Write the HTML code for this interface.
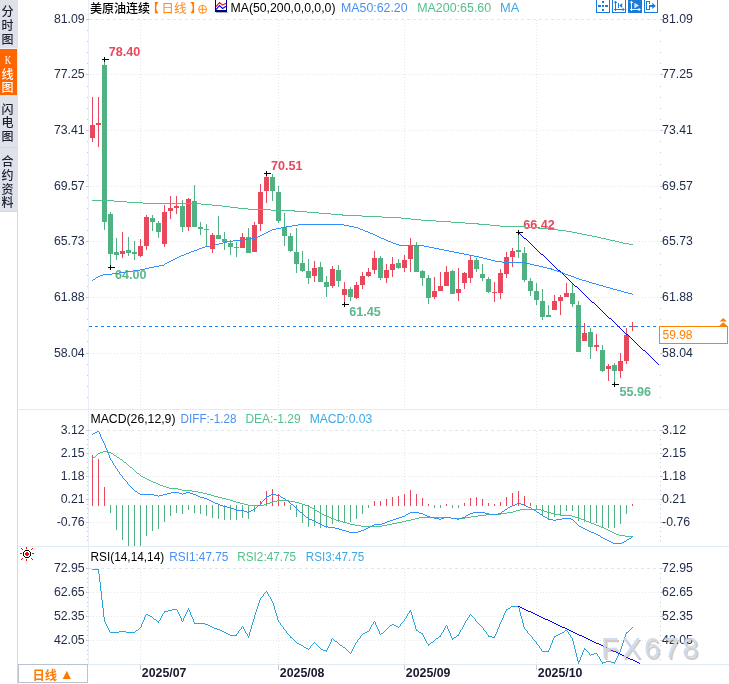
<!DOCTYPE html><html><head><meta charset="utf-8"><title>美原油连续 日线</title>
<style>html,body{margin:0;padding:0;background:#fff;overflow:hidden}svg{display:block}text{font-family:"Liberation Sans","Noto Sans CJK SC",sans-serif;font-size:12px}.ax{fill:#1e2a4a;font-size:12.3px}.t{font-size:12.5px}.b{font-weight:bold}.sb{font-family:"Noto Sans CJK SC","Liberation Sans",sans-serif;font-size:12px;fill:#1a2232;font-weight:500}</style></head><body>
<svg width="729" height="684" viewBox="0 0 729 684">
<rect width="729" height="684" fill="#fff"/>
<g shape-rendering="crispEdges">
<rect x="0" y="0" width="18" height="211" fill="#e0e2ea"/>
<rect x="0" y="48" width="18" height="1" fill="#eef1f8"/>
<rect x="0" y="49" width="17" height="46" fill="#ff6600"/>
<rect x="17" y="49" width="1" height="46" fill="#e6eefa"/>
<rect x="0" y="147" width="18" height="1" fill="#d4d8e0"/>
<rect x="0" y="211" width="18" height="1" fill="#d0dae6"/>
<rect x="17" y="211" width="1" height="473" fill="#d0dae6"/>
</g>
<text class="sb" x="7.5" y="15.5" text-anchor="middle">分</text>
<text class="sb" x="7.5" y="29.5" text-anchor="middle">时</text>
<text class="sb" x="7.5" y="43.5" text-anchor="middle">图</text>
<text class="sb" x="8" y="64" text-anchor="middle" style="fill:#fff;font-family:'Liberation Serif',serif" textLength="6.5" lengthAdjust="spacingAndGlyphs">K</text>
<text class="sb" x="7.5" y="78.5" text-anchor="middle" style="fill:#fff">线</text>
<text class="sb" x="7.5" y="92" text-anchor="middle" style="fill:#fff">图</text>
<text class="sb" x="7.5" y="114" text-anchor="middle">闪</text>
<text class="sb" x="7.5" y="127" text-anchor="middle">电</text>
<text class="sb" x="7.5" y="140.5" text-anchor="middle">图</text>
<text class="sb" x="7.5" y="165.5" text-anchor="middle">合</text>
<text class="sb" x="7.5" y="179.5" text-anchor="middle">约</text>
<text class="sb" x="7.5" y="193.5" text-anchor="middle">资</text>
<text class="sb" x="7.5" y="207" text-anchor="middle">料</text>
<g stroke="#dde7f0" stroke-width="1" stroke-dasharray="3,3" shape-rendering="crispEdges">
<line x1="89" x2="660" y1="19.5" y2="19.5"/>
<line x1="89" x2="660" y1="430.5" y2="430.5"/>
<line x1="89" x2="660" y1="568.5" y2="568.5"/>
</g>
<g stroke="#e3e7ec" stroke-width="1" stroke-dasharray="1,2" shape-rendering="crispEdges">
<line x1="90" x2="660" y1="74.5" y2="74.5"/>
<line x1="90" x2="660" y1="130.5" y2="130.5"/>
<line x1="90" x2="660" y1="186.5" y2="186.5"/>
<line x1="90" x2="660" y1="241.5" y2="241.5"/>
<line x1="90" x2="660" y1="297.5" y2="297.5"/>
<line x1="90" x2="660" y1="353.5" y2="353.5"/>
<line x1="90" x2="660" y1="453.5" y2="453.5"/>
<line x1="90" x2="660" y1="476.5" y2="476.5"/>
<line x1="90" x2="660" y1="499.5" y2="499.5"/>
<line x1="90" x2="660" y1="522.5" y2="522.5"/>
<line x1="90" x2="660" y1="592.5" y2="592.5"/>
<line x1="90" x2="660" y1="616.5" y2="616.5"/>
<line x1="90" x2="660" y1="640.5" y2="640.5"/>
<line x1="140.5" x2="140.5" y1="20" y2="409"/>
<line x1="140.5" x2="140.5" y1="431" y2="546"/>
<line x1="140.5" x2="140.5" y1="569" y2="664"/>
<line x1="278.5" x2="278.5" y1="20" y2="409"/>
<line x1="278.5" x2="278.5" y1="431" y2="546"/>
<line x1="278.5" x2="278.5" y1="569" y2="664"/>
<line x1="404.5" x2="404.5" y1="20" y2="409"/>
<line x1="404.5" x2="404.5" y1="431" y2="546"/>
<line x1="404.5" x2="404.5" y1="569" y2="664"/>
<line x1="536.5" x2="536.5" y1="20" y2="409"/>
<line x1="536.5" x2="536.5" y1="431" y2="546"/>
<line x1="536.5" x2="536.5" y1="569" y2="664"/>
</g>
<g shape-rendering="crispEdges" fill="#e2eaf2">
<rect x="18" y="409" width="711" height="1"/>
<rect x="18" y="546" width="711" height="1"/>
<rect x="18" y="664" width="711" height="1"/>
<rect x="88" y="0" width="1" height="664" fill="#e8eef5"/>
</g>
<g shape-rendering="crispEdges" fill="#c4ccd8">
<rect x="86" y="19" width="3" height="1"/><rect x="660" y="19" width="3" height="1"/>
<rect x="87" y="30" width="1" height="1"/><rect x="660" y="30" width="1" height="1"/>
<rect x="87" y="41" width="1" height="1"/><rect x="660" y="41" width="1" height="1"/>
<rect x="87" y="52" width="1" height="1"/><rect x="660" y="52" width="1" height="1"/>
<rect x="87" y="63" width="1" height="1"/><rect x="660" y="63" width="1" height="1"/>
<rect x="86" y="74" width="3" height="1"/><rect x="660" y="74" width="3" height="1"/>
<rect x="87" y="86" width="1" height="1"/><rect x="660" y="86" width="1" height="1"/>
<rect x="87" y="97" width="1" height="1"/><rect x="660" y="97" width="1" height="1"/>
<rect x="87" y="108" width="1" height="1"/><rect x="660" y="108" width="1" height="1"/>
<rect x="87" y="119" width="1" height="1"/><rect x="660" y="119" width="1" height="1"/>
<rect x="86" y="130" width="3" height="1"/><rect x="660" y="130" width="3" height="1"/>
<rect x="87" y="141" width="1" height="1"/><rect x="660" y="141" width="1" height="1"/>
<rect x="87" y="152" width="1" height="1"/><rect x="660" y="152" width="1" height="1"/>
<rect x="87" y="164" width="1" height="1"/><rect x="660" y="164" width="1" height="1"/>
<rect x="87" y="175" width="1" height="1"/><rect x="660" y="175" width="1" height="1"/>
<rect x="86" y="186" width="3" height="1"/><rect x="660" y="186" width="3" height="1"/>
<rect x="87" y="197" width="1" height="1"/><rect x="660" y="197" width="1" height="1"/>
<rect x="87" y="208" width="1" height="1"/><rect x="660" y="208" width="1" height="1"/>
<rect x="87" y="219" width="1" height="1"/><rect x="660" y="219" width="1" height="1"/>
<rect x="87" y="230" width="1" height="1"/><rect x="660" y="230" width="1" height="1"/>
<rect x="86" y="241" width="3" height="1"/><rect x="660" y="241" width="3" height="1"/>
<rect x="87" y="253" width="1" height="1"/><rect x="660" y="253" width="1" height="1"/>
<rect x="87" y="264" width="1" height="1"/><rect x="660" y="264" width="1" height="1"/>
<rect x="87" y="275" width="1" height="1"/><rect x="660" y="275" width="1" height="1"/>
<rect x="87" y="286" width="1" height="1"/><rect x="660" y="286" width="1" height="1"/>
<rect x="86" y="297" width="3" height="1"/><rect x="660" y="297" width="3" height="1"/>
<rect x="87" y="308" width="1" height="1"/><rect x="660" y="308" width="1" height="1"/>
<rect x="87" y="319" width="1" height="1"/><rect x="660" y="319" width="1" height="1"/>
<rect x="87" y="330" width="1" height="1"/><rect x="660" y="330" width="1" height="1"/>
<rect x="87" y="341" width="1" height="1"/><rect x="660" y="341" width="1" height="1"/>
<rect x="86" y="353" width="3" height="1"/><rect x="660" y="353" width="3" height="1"/>
<rect x="87" y="364" width="1" height="1"/><rect x="660" y="364" width="1" height="1"/>
<rect x="87" y="375" width="1" height="1"/><rect x="660" y="375" width="1" height="1"/>
<rect x="87" y="386" width="1" height="1"/><rect x="660" y="386" width="1" height="1"/>
<rect x="87" y="397" width="1" height="1"/><rect x="660" y="397" width="1" height="1"/>
<rect x="86" y="430" width="3" height="1"/><rect x="660" y="430" width="3" height="1"/>
<rect x="87" y="435" width="1" height="1"/><rect x="660" y="435" width="1" height="1"/>
<rect x="87" y="439" width="1" height="1"/><rect x="660" y="439" width="1" height="1"/>
<rect x="87" y="444" width="1" height="1"/><rect x="660" y="444" width="1" height="1"/>
<rect x="87" y="448" width="1" height="1"/><rect x="660" y="448" width="1" height="1"/>
<rect x="86" y="453" width="3" height="1"/><rect x="660" y="453" width="3" height="1"/>
<rect x="87" y="458" width="1" height="1"/><rect x="660" y="458" width="1" height="1"/>
<rect x="87" y="462" width="1" height="1"/><rect x="660" y="462" width="1" height="1"/>
<rect x="87" y="467" width="1" height="1"/><rect x="660" y="467" width="1" height="1"/>
<rect x="87" y="471" width="1" height="1"/><rect x="660" y="471" width="1" height="1"/>
<rect x="86" y="476" width="3" height="1"/><rect x="660" y="476" width="3" height="1"/>
<rect x="87" y="481" width="1" height="1"/><rect x="660" y="481" width="1" height="1"/>
<rect x="87" y="485" width="1" height="1"/><rect x="660" y="485" width="1" height="1"/>
<rect x="87" y="490" width="1" height="1"/><rect x="660" y="490" width="1" height="1"/>
<rect x="87" y="494" width="1" height="1"/><rect x="660" y="494" width="1" height="1"/>
<rect x="86" y="499" width="3" height="1"/><rect x="660" y="499" width="3" height="1"/>
<rect x="87" y="504" width="1" height="1"/><rect x="660" y="504" width="1" height="1"/>
<rect x="87" y="508" width="1" height="1"/><rect x="660" y="508" width="1" height="1"/>
<rect x="87" y="513" width="1" height="1"/><rect x="660" y="513" width="1" height="1"/>
<rect x="87" y="517" width="1" height="1"/><rect x="660" y="517" width="1" height="1"/>
<rect x="86" y="522" width="3" height="1"/><rect x="660" y="522" width="3" height="1"/>
<rect x="87" y="527" width="1" height="1"/><rect x="660" y="527" width="1" height="1"/>
<rect x="87" y="531" width="1" height="1"/><rect x="660" y="531" width="1" height="1"/>
<rect x="87" y="536" width="1" height="1"/><rect x="660" y="536" width="1" height="1"/>
<rect x="87" y="540" width="1" height="1"/><rect x="660" y="540" width="1" height="1"/>
<rect x="86" y="568" width="3" height="1"/><rect x="660" y="568" width="3" height="1"/>
<rect x="87" y="573" width="1" height="1"/><rect x="660" y="573" width="1" height="1"/>
<rect x="87" y="578" width="1" height="1"/><rect x="660" y="578" width="1" height="1"/>
<rect x="87" y="582" width="1" height="1"/><rect x="660" y="582" width="1" height="1"/>
<rect x="87" y="587" width="1" height="1"/><rect x="660" y="587" width="1" height="1"/>
<rect x="86" y="592" width="3" height="1"/><rect x="660" y="592" width="3" height="1"/>
<rect x="87" y="597" width="1" height="1"/><rect x="660" y="597" width="1" height="1"/>
<rect x="87" y="602" width="1" height="1"/><rect x="660" y="602" width="1" height="1"/>
<rect x="87" y="606" width="1" height="1"/><rect x="660" y="606" width="1" height="1"/>
<rect x="87" y="611" width="1" height="1"/><rect x="660" y="611" width="1" height="1"/>
<rect x="86" y="616" width="3" height="1"/><rect x="660" y="616" width="3" height="1"/>
<rect x="87" y="621" width="1" height="1"/><rect x="660" y="621" width="1" height="1"/>
<rect x="87" y="626" width="1" height="1"/><rect x="660" y="626" width="1" height="1"/>
<rect x="87" y="630" width="1" height="1"/><rect x="660" y="630" width="1" height="1"/>
<rect x="87" y="635" width="1" height="1"/><rect x="660" y="635" width="1" height="1"/>
<rect x="86" y="640" width="3" height="1"/><rect x="660" y="640" width="3" height="1"/>
<rect x="87" y="645" width="1" height="1"/><rect x="660" y="645" width="1" height="1"/>
<rect x="87" y="650" width="1" height="1"/><rect x="660" y="650" width="1" height="1"/>
<rect x="87" y="654" width="1" height="1"/><rect x="660" y="654" width="1" height="1"/>
<rect x="87" y="659" width="1" height="1"/><rect x="660" y="659" width="1" height="1"/>
<rect x="140" y="665" width="1" height="5"/>
<rect x="278" y="665" width="1" height="5"/>
<rect x="404" y="665" width="1" height="5"/>
<rect x="536" y="665" width="1" height="5"/>
</g>
<text class="ax" x="84.7" y="23.4" text-anchor="end">81.09</text>
<text class="ax" x="662.1" y="23.4" text-anchor="start">81.09</text>
<text class="ax" x="84.7" y="78.4" text-anchor="end">77.25</text>
<text class="ax" x="662.1" y="78.4" text-anchor="start">77.25</text>
<text class="ax" x="84.7" y="134.4" text-anchor="end">73.41</text>
<text class="ax" x="662.1" y="134.4" text-anchor="start">73.41</text>
<text class="ax" x="84.7" y="190.4" text-anchor="end">69.57</text>
<text class="ax" x="662.1" y="190.4" text-anchor="start">69.57</text>
<text class="ax" x="84.7" y="245.4" text-anchor="end">65.73</text>
<text class="ax" x="662.1" y="245.4" text-anchor="start">65.73</text>
<text class="ax" x="84.7" y="301.4" text-anchor="end">61.88</text>
<text class="ax" x="662.1" y="301.4" text-anchor="start">61.88</text>
<text class="ax" x="84.7" y="357.4" text-anchor="end">58.04</text>
<text class="ax" x="662.1" y="357.4" text-anchor="start">58.04</text>
<text class="ax" x="84.7" y="434.4" text-anchor="end">3.12</text>
<text class="ax" x="662.1" y="434.4" text-anchor="start">3.12</text>
<text class="ax" x="84.7" y="457.4" text-anchor="end">2.15</text>
<text class="ax" x="662.1" y="457.4" text-anchor="start">2.15</text>
<text class="ax" x="84.7" y="480.4" text-anchor="end">1.18</text>
<text class="ax" x="662.1" y="480.4" text-anchor="start">1.18</text>
<text class="ax" x="84.7" y="503.4" text-anchor="end">0.21</text>
<text class="ax" x="662.1" y="503.4" text-anchor="start">0.21</text>
<text class="ax" x="84.7" y="526.4" text-anchor="end">-0.76</text>
<text class="ax" x="662.1" y="526.4" text-anchor="start">-0.76</text>
<text class="ax" x="84.7" y="572.4" text-anchor="end">72.95</text>
<text class="ax" x="662.1" y="572.4" text-anchor="start">72.95</text>
<text class="ax" x="84.7" y="596.4" text-anchor="end">62.65</text>
<text class="ax" x="662.1" y="596.4" text-anchor="start">62.65</text>
<text class="ax" x="84.7" y="620.4" text-anchor="end">52.35</text>
<text class="ax" x="662.1" y="620.4" text-anchor="start">52.35</text>
<text class="ax" x="84.7" y="644.4" text-anchor="end">42.05</text>
<text class="ax" x="662.1" y="644.4" text-anchor="start">42.05</text>
<g shape-rendering="crispEdges">
<rect x="92" y="97" width="1" height="45" fill="#e8475c"/>
<rect x="90" y="125" width="5" height="13" fill="#e8475c"/>
<rect x="98" y="97" width="1" height="50" fill="#e8475c"/>
<rect x="96" y="123" width="5" height="2" fill="#e8475c"/>
<rect x="104" y="59" width="1" height="171" fill="#50b283"/>
<rect x="102" y="65" width="5" height="157" fill="#50b283"/>
<rect x="110" y="212" width="1" height="53" fill="#50b283"/>
<rect x="108" y="214" width="5" height="40" fill="#50b283"/>
<rect x="116" y="238" width="1" height="22" fill="#50b283"/>
<rect x="114" y="252" width="5" height="3" fill="#50b283"/>
<rect x="122" y="232" width="1" height="26" fill="#e8475c"/>
<rect x="120" y="251" width="5" height="3" fill="#e8475c"/>
<rect x="128" y="237" width="1" height="19" fill="#50b283"/>
<rect x="126" y="250" width="5" height="3" fill="#50b283"/>
<rect x="134" y="241" width="1" height="19" fill="#50b283"/>
<rect x="132" y="252" width="5" height="2" fill="#50b283"/>
<rect x="140" y="239" width="1" height="18" fill="#e8475c"/>
<rect x="138" y="246" width="5" height="10" fill="#e8475c"/>
<rect x="146" y="215" width="1" height="35" fill="#e8475c"/>
<rect x="144" y="217" width="5" height="29" fill="#e8475c"/>
<rect x="152" y="215" width="1" height="16" fill="#50b283"/>
<rect x="150" y="218" width="5" height="4" fill="#50b283"/>
<rect x="158" y="221" width="1" height="17" fill="#50b283"/>
<rect x="156" y="223" width="5" height="9" fill="#50b283"/>
<rect x="164" y="205" width="1" height="42" fill="#e8475c"/>
<rect x="162" y="212" width="5" height="32" fill="#e8475c"/>
<rect x="170" y="196" width="1" height="23" fill="#e8475c"/>
<rect x="168" y="208" width="5" height="3" fill="#e8475c"/>
<rect x="176" y="196" width="1" height="18" fill="#e8475c"/>
<rect x="174" y="206" width="5" height="2" fill="#e8475c"/>
<rect x="182" y="200" width="1" height="32" fill="#50b283"/>
<rect x="180" y="206" width="5" height="21" fill="#50b283"/>
<rect x="188" y="198" width="1" height="33" fill="#e8475c"/>
<rect x="186" y="199" width="5" height="28" fill="#e8475c"/>
<rect x="194" y="185" width="1" height="42" fill="#50b283"/>
<rect x="192" y="201" width="5" height="26" fill="#50b283"/>
<rect x="200" y="222" width="1" height="13" fill="#50b283"/>
<rect x="198" y="227" width="5" height="2" fill="#50b283"/>
<rect x="206" y="224" width="1" height="23" fill="#50b283"/>
<rect x="204" y="229" width="5" height="1" fill="#50b283"/>
<rect x="212" y="233" width="1" height="20" fill="#e8475c"/>
<rect x="210" y="235" width="5" height="14" fill="#e8475c"/>
<rect x="218" y="216" width="1" height="23" fill="#50b283"/>
<rect x="216" y="235" width="5" height="4" fill="#50b283"/>
<rect x="224" y="232" width="1" height="18" fill="#50b283"/>
<rect x="222" y="239" width="5" height="3" fill="#50b283"/>
<rect x="230" y="240" width="1" height="15" fill="#50b283"/>
<rect x="228" y="243" width="5" height="4" fill="#50b283"/>
<rect x="236" y="242" width="1" height="15" fill="#50b283"/>
<rect x="234" y="247" width="5" height="1" fill="#50b283"/>
<rect x="242" y="233" width="1" height="15" fill="#e8475c"/>
<rect x="240" y="237" width="5" height="11" fill="#e8475c"/>
<rect x="248" y="228" width="1" height="25" fill="#50b283"/>
<rect x="246" y="237" width="5" height="16" fill="#50b283"/>
<rect x="254" y="222" width="1" height="30" fill="#e8475c"/>
<rect x="252" y="225" width="5" height="27" fill="#e8475c"/>
<rect x="260" y="184" width="1" height="47" fill="#e8475c"/>
<rect x="258" y="192" width="5" height="32" fill="#e8475c"/>
<rect x="266" y="174" width="1" height="29" fill="#e8475c"/>
<rect x="264" y="177" width="5" height="14" fill="#e8475c"/>
<rect x="272" y="174" width="1" height="27" fill="#50b283"/>
<rect x="270" y="177" width="5" height="14" fill="#50b283"/>
<rect x="278" y="186" width="1" height="37" fill="#50b283"/>
<rect x="276" y="192" width="5" height="29" fill="#50b283"/>
<rect x="284" y="213" width="1" height="33" fill="#50b283"/>
<rect x="282" y="227" width="5" height="9" fill="#50b283"/>
<rect x="290" y="233" width="1" height="19" fill="#50b283"/>
<rect x="288" y="236" width="5" height="15" fill="#50b283"/>
<rect x="296" y="228" width="1" height="45" fill="#50b283"/>
<rect x="294" y="252" width="5" height="12" fill="#50b283"/>
<rect x="302" y="251" width="1" height="21" fill="#50b283"/>
<rect x="300" y="263" width="5" height="8" fill="#50b283"/>
<rect x="308" y="259" width="1" height="25" fill="#50b283"/>
<rect x="306" y="271" width="5" height="7" fill="#50b283"/>
<rect x="314" y="261" width="1" height="21" fill="#e8475c"/>
<rect x="312" y="268" width="5" height="8" fill="#e8475c"/>
<rect x="320" y="262" width="1" height="20" fill="#50b283"/>
<rect x="318" y="267" width="5" height="15" fill="#50b283"/>
<rect x="326" y="276" width="1" height="21" fill="#50b283"/>
<rect x="324" y="282" width="5" height="5" fill="#50b283"/>
<rect x="332" y="266" width="1" height="22" fill="#e8475c"/>
<rect x="330" y="269" width="5" height="17" fill="#e8475c"/>
<rect x="338" y="265" width="1" height="22" fill="#50b283"/>
<rect x="336" y="270" width="5" height="11" fill="#50b283"/>
<rect x="344" y="282" width="1" height="22" fill="#e8475c"/>
<rect x="342" y="289" width="5" height="6" fill="#e8475c"/>
<rect x="350" y="287" width="1" height="14" fill="#50b283"/>
<rect x="348" y="289" width="5" height="8" fill="#50b283"/>
<rect x="356" y="282" width="1" height="17" fill="#e8475c"/>
<rect x="354" y="285" width="5" height="13" fill="#e8475c"/>
<rect x="362" y="272" width="1" height="17" fill="#e8475c"/>
<rect x="360" y="276" width="5" height="9" fill="#e8475c"/>
<rect x="368" y="268" width="1" height="9" fill="#e8475c"/>
<rect x="366" y="272" width="5" height="4" fill="#e8475c"/>
<rect x="374" y="251" width="1" height="23" fill="#e8475c"/>
<rect x="372" y="258" width="5" height="12" fill="#e8475c"/>
<rect x="380" y="256" width="1" height="24" fill="#50b283"/>
<rect x="378" y="258" width="5" height="20" fill="#50b283"/>
<rect x="386" y="264" width="1" height="19" fill="#e8475c"/>
<rect x="384" y="270" width="5" height="8" fill="#e8475c"/>
<rect x="392" y="257" width="1" height="20" fill="#e8475c"/>
<rect x="390" y="264" width="5" height="6" fill="#e8475c"/>
<rect x="398" y="259" width="1" height="10" fill="#50b283"/>
<rect x="396" y="263" width="5" height="5" fill="#50b283"/>
<rect x="404" y="255" width="1" height="17" fill="#e8475c"/>
<rect x="402" y="260" width="5" height="8" fill="#e8475c"/>
<rect x="410" y="238" width="1" height="34" fill="#e8475c"/>
<rect x="408" y="245" width="5" height="14" fill="#e8475c"/>
<rect x="416" y="242" width="1" height="30" fill="#50b283"/>
<rect x="414" y="245" width="5" height="27" fill="#50b283"/>
<rect x="422" y="270" width="1" height="16" fill="#50b283"/>
<rect x="420" y="271" width="5" height="7" fill="#50b283"/>
<rect x="428" y="275" width="1" height="29" fill="#50b283"/>
<rect x="426" y="278" width="5" height="20" fill="#50b283"/>
<rect x="434" y="277" width="1" height="22" fill="#e8475c"/>
<rect x="432" y="291" width="5" height="6" fill="#e8475c"/>
<rect x="440" y="272" width="1" height="19" fill="#e8475c"/>
<rect x="438" y="286" width="5" height="5" fill="#e8475c"/>
<rect x="446" y="266" width="1" height="20" fill="#e8475c"/>
<rect x="444" y="272" width="5" height="14" fill="#e8475c"/>
<rect x="452" y="270" width="1" height="24" fill="#50b283"/>
<rect x="450" y="271" width="5" height="23" fill="#50b283"/>
<rect x="458" y="268" width="1" height="33" fill="#e8475c"/>
<rect x="456" y="289" width="5" height="4" fill="#e8475c"/>
<rect x="464" y="272" width="1" height="17" fill="#e8475c"/>
<rect x="462" y="273" width="5" height="10" fill="#e8475c"/>
<rect x="470" y="256" width="1" height="27" fill="#e8475c"/>
<rect x="468" y="260" width="5" height="18" fill="#e8475c"/>
<rect x="476" y="258" width="1" height="14" fill="#50b283"/>
<rect x="474" y="260" width="5" height="9" fill="#50b283"/>
<rect x="482" y="264" width="1" height="17" fill="#50b283"/>
<rect x="480" y="274" width="5" height="4" fill="#50b283"/>
<rect x="488" y="277" width="1" height="16" fill="#50b283"/>
<rect x="486" y="279" width="5" height="13" fill="#50b283"/>
<rect x="494" y="282" width="1" height="20" fill="#e8475c"/>
<rect x="492" y="292" width="5" height="1" fill="#e8475c"/>
<rect x="500" y="269" width="1" height="30" fill="#e8475c"/>
<rect x="498" y="273" width="5" height="20" fill="#e8475c"/>
<rect x="506" y="252" width="1" height="26" fill="#e8475c"/>
<rect x="504" y="257" width="5" height="17" fill="#e8475c"/>
<rect x="512" y="248" width="1" height="19" fill="#e8475c"/>
<rect x="510" y="251" width="5" height="6" fill="#e8475c"/>
<rect x="518" y="232" width="1" height="26" fill="#50b283"/>
<rect x="516" y="250" width="5" height="2" fill="#50b283"/>
<rect x="524" y="247" width="1" height="35" fill="#50b283"/>
<rect x="522" y="253" width="5" height="27" fill="#50b283"/>
<rect x="530" y="278" width="1" height="18" fill="#50b283"/>
<rect x="528" y="281" width="5" height="10" fill="#50b283"/>
<rect x="536" y="283" width="1" height="22" fill="#50b283"/>
<rect x="534" y="291" width="5" height="9" fill="#50b283"/>
<rect x="542" y="289" width="1" height="31" fill="#50b283"/>
<rect x="540" y="301" width="5" height="16" fill="#50b283"/>
<rect x="548" y="305" width="1" height="12" fill="#50b283"/>
<rect x="546" y="315" width="5" height="2" fill="#50b283"/>
<rect x="554" y="295" width="1" height="15" fill="#e8475c"/>
<rect x="552" y="301" width="5" height="9" fill="#e8475c"/>
<rect x="560" y="295" width="1" height="20" fill="#e8475c"/>
<rect x="558" y="297" width="5" height="4" fill="#e8475c"/>
<rect x="566" y="283" width="1" height="14" fill="#e8475c"/>
<rect x="564" y="293" width="5" height="4" fill="#e8475c"/>
<rect x="572" y="284" width="1" height="23" fill="#50b283"/>
<rect x="570" y="293" width="5" height="11" fill="#50b283"/>
<rect x="578" y="301" width="1" height="51" fill="#50b283"/>
<rect x="576" y="305" width="5" height="47" fill="#50b283"/>
<rect x="584" y="323" width="1" height="18" fill="#e8475c"/>
<rect x="582" y="333" width="5" height="8" fill="#e8475c"/>
<rect x="590" y="328" width="1" height="31" fill="#50b283"/>
<rect x="588" y="332" width="5" height="15" fill="#50b283"/>
<rect x="596" y="334" width="1" height="17" fill="#e8475c"/>
<rect x="594" y="345" width="5" height="2" fill="#e8475c"/>
<rect x="602" y="345" width="1" height="27" fill="#50b283"/>
<rect x="600" y="350" width="5" height="21" fill="#50b283"/>
<rect x="608" y="364" width="1" height="17" fill="#e8475c"/>
<rect x="606" y="366" width="5" height="3" fill="#e8475c"/>
<rect x="614" y="363" width="1" height="21" fill="#50b283"/>
<rect x="612" y="365" width="5" height="6" fill="#50b283"/>
<rect x="620" y="353" width="1" height="25" fill="#e8475c"/>
<rect x="618" y="361" width="5" height="10" fill="#e8475c"/>
<rect x="626" y="328" width="1" height="36" fill="#e8475c"/>
<rect x="624" y="335" width="5" height="26" fill="#e8475c"/>
<rect x="632" y="322" width="1" height="9" fill="#e8475c"/><rect x="630" y="326" width="5" height="1" fill="#e8475c"/>
</g>
<line x1="89" x2="660" y1="326.5" y2="326.5" stroke="#1a86f0" stroke-width="1" stroke-dasharray="3,3" shape-rendering="crispEdges"/>
<path fill="#0000ff" shape-rendering="crispEdges" d="M518 232h1v1h-1zM519 233h1v1h-1zM520 234h1v1h-1zM521 235h1v1h-1zM522 236h1v1h-1zM523 237h1v1h-1zM524 238h2v1h-2zM526 239h1v1h-1zM527 240h1v1h-1zM528 241h1v1h-1zM529 242h1v1h-1zM530 243h1v1h-1zM531 244h1v1h-1zM532 245h1v1h-1zM533 246h1v1h-1zM534 247h1v1h-1zM535 248h1v1h-1zM536 249h1v1h-1zM537 250h1v1h-1zM538 251h1v1h-1zM539 252h1v1h-1zM540 253h1v1h-1zM541 254h2v1h-2zM543 255h1v1h-1zM544 256h1v1h-1zM545 257h1v1h-1zM546 258h1v1h-1zM547 259h1v1h-1zM548 260h1v1h-1zM549 261h1v1h-1zM550 262h1v1h-1zM551 263h1v1h-1zM552 264h1v1h-1zM553 265h1v1h-1zM554 266h1v1h-1zM555 267h1v1h-1zM556 268h1v1h-1zM557 269h1v1h-1zM558 270h2v1h-2zM560 271h1v1h-1zM561 272h1v1h-1zM562 273h1v1h-1zM563 274h1v1h-1zM564 275h1v1h-1zM565 276h1v1h-1zM566 277h1v1h-1zM567 278h1v1h-1zM568 279h1v1h-1zM569 280h1v1h-1zM570 281h1v1h-1zM571 282h1v1h-1zM572 283h1v1h-1zM573 284h1v1h-1zM574 285h1v1h-1zM575 286h2v1h-2zM577 287h1v1h-1zM578 288h1v1h-1zM579 289h1v1h-1zM580 290h1v1h-1zM581 291h1v1h-1zM582 292h1v1h-1zM583 293h1v1h-1zM584 294h1v1h-1zM585 295h1v1h-1zM586 296h1v1h-1zM587 297h1v1h-1zM588 298h1v1h-1zM589 299h1v1h-1zM590 300h1v1h-1zM591 301h1v1h-1zM592 302h2v1h-2zM594 303h1v1h-1zM595 304h1v1h-1zM596 305h1v1h-1zM597 306h1v1h-1zM598 307h1v1h-1zM599 308h1v1h-1zM600 309h1v1h-1zM601 310h1v1h-1zM602 311h1v1h-1zM603 312h1v1h-1zM604 313h1v1h-1zM605 314h1v1h-1zM606 315h1v1h-1zM607 316h1v1h-1zM608 317h1v1h-1zM609 318h2v1h-2zM611 319h1v1h-1zM612 320h1v1h-1zM613 321h1v1h-1zM614 322h1v1h-1zM615 323h1v1h-1zM616 324h1v1h-1zM617 325h1v1h-1zM618 326h1v1h-1zM619 327h1v1h-1zM620 328h1v1h-1zM621 329h1v1h-1zM622 330h1v1h-1zM623 331h1v1h-1zM624 332h1v1h-1zM625 333h1v1h-1zM626 334h2v1h-2zM628 335h1v1h-1zM629 336h1v1h-1zM630 337h1v1h-1zM631 338h1v1h-1zM632 339h1v1h-1zM633 340h1v1h-1zM634 341h1v1h-1zM635 342h1v1h-1zM636 343h1v1h-1zM637 344h1v1h-1zM638 345h1v1h-1zM639 346h1v1h-1zM640 347h1v1h-1zM641 348h1v1h-1zM642 349h1v1h-1zM643 350h2v1h-2zM645 351h1v1h-1zM646 352h1v1h-1zM647 353h1v1h-1zM648 354h1v1h-1zM649 355h1v1h-1zM650 356h1v1h-1zM651 357h1v1h-1zM652 358h1v1h-1zM653 359h1v1h-1zM654 360h1v1h-1zM655 361h1v1h-1zM656 362h1v1h-1zM657 363h1v1h-1zM658 364h1v1h-1z"/>
<g shape-rendering="crispEdges" fill="#000"><rect x="102" y="59" width="7" height="1"/><rect x="104" y="57" width="1" height="5"/></g>
<g shape-rendering="crispEdges" fill="#000"><rect x="108" y="267" width="7" height="1"/><rect x="110" y="265" width="1" height="5"/></g>
<g shape-rendering="crispEdges" fill="#000"><rect x="264" y="173" width="7" height="1"/><rect x="266" y="171" width="1" height="5"/></g>
<g shape-rendering="crispEdges" fill="#000"><rect x="342" y="304" width="7" height="1"/><rect x="344" y="302" width="1" height="5"/></g>
<g shape-rendering="crispEdges" fill="#000"><rect x="516" y="232" width="7" height="1"/><rect x="518" y="230" width="1" height="5"/></g>
<g shape-rendering="crispEdges" fill="#000"><rect x="612" y="384" width="7" height="1"/><rect x="614" y="382" width="1" height="5"/></g>
<text class="b" x="108.8" y="56" fill="#e8475c" style="font-size:12.6px">78.40</text>
<text class="b" x="115" y="279" fill="#5cb88c" style="font-size:12.6px">64.00</text>
<text class="b" x="271" y="170" fill="#e8475c" style="font-size:12.6px">70.51</text>
<text class="b" x="349.3" y="316" fill="#5cb88c" style="font-size:12.6px">61.45</text>
<text class="b" x="523.2" y="229.4" fill="#e8475c" style="font-size:12.6px">66.42</text>
<text class="b" x="619.6" y="395.8" fill="#5cb88c" style="font-size:12.6px">55.96</text>
<path fill="#52c08c" shape-rendering="crispEdges" d="M92 200h22v1h-22zM114 201h13v1h-13zM127 202h16v1h-16zM143 203h58v1h-58zM201 204h11v1h-11zM212 205h10v1h-10zM222 206h8v1h-8zM230 207h8v1h-8zM238 208h10v1h-10zM248 209h23v1h-23zM271 210h24v1h-24zM294 211h13v1h-13zM307 212h12v1h-12zM319 213h12v1h-12zM331 214h12v1h-12zM342 215h20v1h-20zM362 216h20v1h-20zM382 217h19v1h-19zM401 218h10v1h-10zM411 219h10v1h-10zM421 220h15v1h-15zM436 221h15v1h-15zM451 222h14v1h-14zM465 223h14v1h-14zM478 224h12v1h-12zM490 225h10v1h-10zM500 226h25v1h-25zM525 227h13v1h-13zM538 228h10v1h-10zM548 229h10v1h-10zM558 230h8v1h-8zM566 231h6v1h-6zM572 232h5v1h-5zM577 233h5v1h-5zM582 234h5v1h-5zM587 235h5v1h-5zM592 236h5v1h-5zM597 237h4v1h-4zM601 238h5v1h-5zM606 239h4v1h-4zM610 240h5v1h-5zM615 241h4v1h-4zM619 242h4v1h-4zM623 243h6v1h-6zM629 244h4v1h-4z"/>
<path fill="#3090ff" shape-rendering="crispEdges" d="M298 224h46v1h-46zM292 225h6v1h-6zM344 225h5v1h-5zM286 226h6v1h-6zM349 226h5v1h-5zM281 227h5v1h-5zM354 227h4v1h-4zM276 228h5v1h-5zM358 228h2v1h-2zM272 229h4v1h-4zM360 229h3v1h-3zM270 230h2v1h-2zM363 230h2v1h-2zM268 231h2v1h-2zM365 231h3v1h-3zM266 232h2v1h-2zM368 232h2v1h-2zM264 233h2v1h-2zM370 233h3v1h-3zM262 234h2v1h-2zM373 234h2v1h-2zM260 235h2v1h-2zM375 235h2v1h-2zM258 236h2v1h-2zM377 236h2v1h-2zM256 237h2v1h-2zM379 237h2v1h-2zM249 238h7v1h-7zM381 238h3v1h-3zM241 239h8v1h-8zM384 239h2v1h-2zM233 240h8v1h-8zM386 240h2v1h-2zM227 241h6v1h-6zM388 241h3v1h-3zM223 242h4v1h-4zM391 242h2v1h-2zM219 243h4v1h-4zM393 243h3v1h-3zM215 244h4v1h-4zM396 244h3v1h-3zM210 245h5v1h-5zM399 245h25v1h-25zM205 246h5v1h-5zM424 246h5v1h-5zM202 247h3v1h-3zM429 247h5v1h-5zM199 248h3v1h-3zM434 248h5v1h-5zM197 249h2v1h-2zM439 249h5v1h-5zM194 250h3v1h-3zM444 250h5v1h-5zM191 251h3v1h-3zM449 251h5v1h-5zM189 252h2v1h-2zM454 252h5v1h-5zM186 253h3v1h-3zM459 253h5v1h-5zM184 254h2v1h-2zM464 254h5v1h-5zM181 255h3v1h-3zM469 255h5v1h-5zM179 256h2v1h-2zM474 256h5v1h-5zM177 257h2v1h-2zM479 257h4v1h-4zM175 258h2v1h-2zM483 258h4v1h-4zM173 259h2v1h-2zM487 259h4v1h-4zM171 260h2v1h-2zM491 260h4v1h-4zM169 261h2v1h-2zM495 261h7v1h-7zM167 262h2v1h-2zM502 262h23v1h-23zM165 263h2v1h-2zM525 263h5v1h-5zM164 264h1v1h-1zM530 264h4v1h-4zM159 265h5v1h-5zM534 265h5v1h-5zM154 266h5v1h-5zM539 266h4v1h-4zM149 267h5v1h-5zM543 267h4v1h-4zM145 268h4v1h-4zM547 268h5v1h-5zM140 269h5v1h-5zM551 269h3v1h-3zM133 270h7v1h-7zM554 270h3v1h-3zM126 271h7v1h-7zM557 271h3v1h-3zM119 272h7v1h-7zM560 272h3v1h-3zM112 273h7v1h-7zM563 273h2v1h-2zM103 274h9v1h-9zM565 274h3v1h-3zM100 275h3v1h-3zM568 275h3v1h-3zM98 276h2v1h-2zM571 276h3v1h-3zM96 277h2v1h-2zM574 277h2v1h-2zM95 278h1v1h-1zM576 278h3v1h-3zM93 279h2v1h-2zM579 279h3v1h-3zM92 280h1v1h-1zM582 280h4v1h-4zM586 281h3v1h-3zM589 282h3v1h-3zM592 283h4v1h-4zM596 284h3v1h-3zM599 285h4v1h-4zM603 286h3v1h-3zM606 287h4v1h-4zM610 288h3v1h-3zM613 289h4v1h-4zM617 290h4v1h-4zM621 291h3v1h-3zM624 292h4v1h-4zM628 293h4v1h-4zM632 294h1v1h-1z"/>
<rect x="659.5" y="326.5" width="68" height="17" fill="#fff" stroke="#ff8000" stroke-width="1" shape-rendering="crispEdges"/>
<text x="662.5" y="338.6" fill="#ff8000">59.98</text>
<path d="M719.6 321.6 L723.2 317.9 L726.9 321.6 Z M719.1 326 L723.2 322.2 L727.4 326 Z" fill="#ff8000"/>
<g shape-rendering="crispEdges">
<rect x="92" y="455" width="1" height="51" fill="#e8475c"/>
<rect x="98" y="459" width="1" height="47" fill="#e8475c"/>
<rect x="104" y="487" width="1" height="19" fill="#e8475c"/>
<rect x="110" y="505" width="1" height="8" fill="#50b283"/>
<rect x="116" y="505" width="1" height="25" fill="#50b283"/>
<rect x="122" y="505" width="1" height="35" fill="#50b283"/>
<rect x="128" y="505" width="1" height="41" fill="#50b283"/>
<rect x="134" y="505" width="1" height="41" fill="#50b283"/>
<rect x="140" y="505" width="1" height="41" fill="#50b283"/>
<rect x="146" y="505" width="1" height="31" fill="#50b283"/>
<rect x="152" y="505" width="1" height="26" fill="#50b283"/>
<rect x="158" y="505" width="1" height="24" fill="#50b283"/>
<rect x="164" y="505" width="1" height="17" fill="#50b283"/>
<rect x="170" y="505" width="1" height="11" fill="#50b283"/>
<rect x="176" y="505" width="1" height="8" fill="#50b283"/>
<rect x="182" y="505" width="1" height="9" fill="#50b283"/>
<rect x="188" y="505" width="1" height="5" fill="#50b283"/>
<rect x="194" y="505" width="1" height="8" fill="#50b283"/>
<rect x="200" y="505" width="1" height="9" fill="#50b283"/>
<rect x="206" y="505" width="1" height="11" fill="#50b283"/>
<rect x="212" y="505" width="1" height="13" fill="#50b283"/>
<rect x="218" y="505" width="1" height="14" fill="#50b283"/>
<rect x="224" y="505" width="1" height="15" fill="#50b283"/>
<rect x="230" y="505" width="1" height="15" fill="#50b283"/>
<rect x="236" y="505" width="1" height="15" fill="#50b283"/>
<rect x="242" y="505" width="1" height="13" fill="#50b283"/>
<rect x="248" y="505" width="1" height="14" fill="#50b283"/>
<rect x="254" y="505" width="1" height="7" fill="#50b283"/>
<rect x="260" y="501" width="1" height="5" fill="#e8475c"/>
<rect x="266" y="491" width="1" height="15" fill="#e8475c"/>
<rect x="272" y="489" width="1" height="17" fill="#e8475c"/>
<rect x="278" y="494" width="1" height="12" fill="#e8475c"/>
<rect x="284" y="502" width="1" height="4" fill="#e8475c"/>
<rect x="290" y="505" width="1" height="5" fill="#50b283"/>
<rect x="296" y="505" width="1" height="12" fill="#50b283"/>
<rect x="302" y="505" width="1" height="18" fill="#50b283"/>
<rect x="308" y="505" width="1" height="22" fill="#50b283"/>
<rect x="314" y="505" width="1" height="21" fill="#50b283"/>
<rect x="320" y="505" width="1" height="23" fill="#50b283"/>
<rect x="326" y="505" width="1" height="23" fill="#50b283"/>
<rect x="332" y="505" width="1" height="19" fill="#50b283"/>
<rect x="338" y="505" width="1" height="17" fill="#50b283"/>
<rect x="344" y="505" width="1" height="17" fill="#50b283"/>
<rect x="350" y="505" width="1" height="17" fill="#50b283"/>
<rect x="356" y="505" width="1" height="14" fill="#50b283"/>
<rect x="362" y="505" width="1" height="9" fill="#50b283"/>
<rect x="368" y="505" width="1" height="3" fill="#50b283"/>
<rect x="374" y="501" width="1" height="5" fill="#e8475c"/>
<rect x="380" y="501" width="1" height="5" fill="#e8475c"/>
<rect x="386" y="499" width="1" height="7" fill="#e8475c"/>
<rect x="392" y="497" width="1" height="9" fill="#e8475c"/>
<rect x="398" y="496" width="1" height="10" fill="#e8475c"/>
<rect x="404" y="494" width="1" height="12" fill="#e8475c"/>
<rect x="410" y="490" width="1" height="16" fill="#e8475c"/>
<rect x="416" y="494" width="1" height="12" fill="#e8475c"/>
<rect x="422" y="498" width="1" height="8" fill="#e8475c"/>
<rect x="428" y="504" width="1" height="2" fill="#e8475c"/>
<rect x="434" y="505" width="1" height="3" fill="#50b283"/>
<rect x="440" y="505" width="1" height="3" fill="#50b283"/>
<rect x="446" y="504" width="1" height="2" fill="#e8475c"/>
<rect x="452" y="505" width="1" height="3" fill="#50b283"/>
<rect x="458" y="505" width="1" height="3" fill="#50b283"/>
<rect x="464" y="503" width="1" height="3" fill="#e8475c"/>
<rect x="470" y="498" width="1" height="8" fill="#e8475c"/>
<rect x="476" y="497" width="1" height="9" fill="#e8475c"/>
<rect x="482" y="499" width="1" height="7" fill="#e8475c"/>
<rect x="488" y="503" width="1" height="3" fill="#e8475c"/>
<rect x="494" y="504" width="1" height="2" fill="#e8475c"/>
<rect x="500" y="502" width="1" height="4" fill="#e8475c"/>
<rect x="506" y="497" width="1" height="9" fill="#e8475c"/>
<rect x="512" y="493" width="1" height="13" fill="#e8475c"/>
<rect x="518" y="491" width="1" height="15" fill="#e8475c"/>
<rect x="524" y="496" width="1" height="10" fill="#e8475c"/>
<rect x="530" y="503" width="1" height="3" fill="#e8475c"/>
<rect x="536" y="505" width="1" height="5" fill="#50b283"/>
<rect x="542" y="505" width="1" height="11" fill="#50b283"/>
<rect x="548" y="505" width="1" height="14" fill="#50b283"/>
<rect x="554" y="505" width="1" height="12" fill="#50b283"/>
<rect x="560" y="505" width="1" height="10" fill="#50b283"/>
<rect x="566" y="505" width="1" height="6" fill="#50b283"/>
<rect x="572" y="505" width="1" height="6" fill="#50b283"/>
<rect x="578" y="505" width="1" height="16" fill="#50b283"/>
<rect x="584" y="505" width="1" height="17" fill="#50b283"/>
<rect x="590" y="505" width="1" height="18" fill="#50b283"/>
<rect x="596" y="505" width="1" height="18" fill="#50b283"/>
<rect x="602" y="505" width="1" height="22" fill="#50b283"/>
<rect x="608" y="505" width="1" height="23" fill="#50b283"/>
<rect x="614" y="505" width="1" height="23" fill="#50b283"/>
<rect x="620" y="505" width="1" height="19" fill="#50b283"/>
<rect x="626" y="505" width="1" height="9" fill="#50b283"/>
<rect x="632" y="504" width="1" height="2" fill="#e8475c"/>
</g>
<path fill="#52c08c" shape-rendering="crispEdges" d="M103 451h4v1h-4zM100 452h3v1h-3zM107 452h4v1h-4zM98 453h2v1h-2zM111 453h2v1h-2zM97 454h1v1h-1zM113 454h1v1h-1zM96 455h1v1h-1zM114 455h2v1h-2zM95 456h1v1h-1zM116 456h1v1h-1zM93 457h2v1h-2zM117 457h2v1h-2zM92 458h1v1h-1zM119 458h1v1h-1zM120 459h2v1h-2zM122 460h1v1h-1zM123 461h1v1h-1zM124 462h2v1h-2zM126 463h1v1h-1zM127 464h1v1h-1zM128 465h1v1h-1zM129 466h1v1h-1zM130 467h2v1h-2zM132 468h1v1h-1zM133 469h1v1h-1zM134 470h1v1h-1zM135 471h1v1h-1zM136 472h1v1h-1zM137 473h2v1h-2zM139 474h1v1h-1zM140 475h1v1h-1zM141 476h2v1h-2zM143 477h2v1h-2zM145 478h2v1h-2zM147 479h2v1h-2zM149 480h2v1h-2zM151 481h2v1h-2zM153 482h3v1h-3zM156 483h2v1h-2zM158 484h2v1h-2zM160 485h3v1h-3zM163 486h3v1h-3zM166 487h3v1h-3zM169 488h9v1h-9zM178 489h4v1h-4zM182 490h10v1h-10zM192 491h6v1h-6zM198 492h5v1h-5zM203 493h4v1h-4zM207 494h4v1h-4zM211 495h3v1h-3zM214 496h4v1h-4zM218 497h4v1h-4zM222 498h4v1h-4zM226 499h4v1h-4zM230 500h3v1h-3zM277 500h12v1h-12zM233 501h3v1h-3zM273 501h4v1h-4zM289 501h6v1h-6zM236 502h4v1h-4zM270 502h3v1h-3zM295 502h4v1h-4zM240 503h4v1h-4zM267 503h3v1h-3zM299 503h3v1h-3zM244 504h4v1h-4zM264 504h3v1h-3zM302 504h3v1h-3zM248 505h16v1h-16zM305 505h3v1h-3zM308 506h2v1h-2zM310 507h2v1h-2zM312 508h2v1h-2zM314 509h1v1h-1zM520 509h21v1h-21zM315 510h2v1h-2zM516 510h4v1h-4zM541 510h3v1h-3zM317 511h2v1h-2zM513 511h3v1h-3zM544 511h3v1h-3zM319 512h1v1h-1zM507 512h6v1h-6zM547 512h4v1h-4zM320 513h2v1h-2zM501 513h6v1h-6zM551 513h4v1h-4zM322 514h2v1h-2zM486 514h15v1h-15zM555 514h5v1h-5zM324 515h2v1h-2zM478 515h8v1h-8zM560 515h12v1h-12zM326 516h3v1h-3zM471 516h7v1h-7zM572 516h3v1h-3zM329 517h2v1h-2zM419 517h32v1h-32zM465 517h6v1h-6zM575 517h3v1h-3zM331 518h3v1h-3zM415 518h4v1h-4zM451 518h14v1h-14zM578 518h3v1h-3zM334 519h2v1h-2zM411 519h4v1h-4zM581 519h3v1h-3zM336 520h4v1h-4zM406 520h5v1h-5zM584 520h2v1h-2zM340 521h3v1h-3zM402 521h4v1h-4zM586 521h3v1h-3zM343 522h4v1h-4zM397 522h5v1h-5zM589 522h2v1h-2zM347 523h3v1h-3zM392 523h5v1h-5zM591 523h3v1h-3zM350 524h5v1h-5zM387 524h5v1h-5zM594 524h2v1h-2zM355 525h6v1h-6zM382 525h5v1h-5zM596 525h3v1h-3zM361 526h21v1h-21zM599 526h2v1h-2zM601 527h3v1h-3zM604 528h2v1h-2zM606 529h2v1h-2zM608 530h2v1h-2zM610 531h2v1h-2zM612 532h2v1h-2zM614 533h2v1h-2zM616 534h3v1h-3zM619 535h6v1h-6zM625 536h8v1h-8z"/>
<path fill="#3090ff" shape-rendering="crispEdges" d="M97 431h2v1h-2zM95 432h2v1h-2zM99 432h1v1h-1zM93 433h2v1h-2zM99 433h1v1h-1zM92 434h1v1h-1zM100 434h1v1h-1zM100 435h1v1h-1zM100 436h1v1h-1zM101 437h1v1h-1zM101 438h1v1h-1zM102 439h1v1h-1zM102 440h1v1h-1zM103 441h1v1h-1zM103 442h1v1h-1zM104 443h1v1h-1zM104 444h1v1h-1zM105 445h1v1h-1zM105 446h1v1h-1zM105 447h1v1h-1zM106 448h1v1h-1zM106 449h1v1h-1zM107 450h1v1h-1zM107 451h1v1h-1zM107 452h1v1h-1zM108 453h1v1h-1zM108 454h1v1h-1zM109 455h1v1h-1zM109 456h1v1h-1zM109 457h1v1h-1zM110 458h1v1h-1zM110 459h1v1h-1zM111 460h1v1h-1zM112 461h1v1h-1zM112 462h1v1h-1zM113 463h1v1h-1zM113 464h1v1h-1zM114 465h1v1h-1zM115 466h1v1h-1zM115 467h1v1h-1zM116 468h1v1h-1zM117 469h1v1h-1zM117 470h1v1h-1zM118 471h1v1h-1zM119 472h1v1h-1zM119 473h1v1h-1zM120 474h1v1h-1zM121 475h1v1h-1zM122 476h1v1h-1zM122 477h1v1h-1zM123 478h1v1h-1zM124 479h1v1h-1zM125 480h1v1h-1zM126 481h1v1h-1zM127 482h1v1h-1zM127 483h1v1h-1zM128 484h1v1h-1zM129 485h1v1h-1zM130 486h1v1h-1zM131 487h1v1h-1zM132 488h1v1h-1zM133 489h1v1h-1zM134 490h1v1h-1zM135 491h2v1h-2zM137 492h1v1h-1zM171 492h8v1h-8zM186 492h4v1h-4zM138 493h2v1h-2zM167 493h4v1h-4zM179 493h3v1h-3zM183 493h3v1h-3zM190 493h3v1h-3zM140 494h14v1h-14zM163 494h4v1h-4zM182 494h1v1h-1zM193 494h3v1h-3zM271 494h5v1h-5zM154 495h4v1h-4zM159 495h4v1h-4zM196 495h2v1h-2zM269 495h2v1h-2zM276 495h4v1h-4zM158 496h1v1h-1zM198 496h2v1h-2zM266 496h3v1h-3zM280 496h1v1h-1zM200 497h4v1h-4zM266 497h1v1h-1zM281 497h2v1h-2zM204 498h3v1h-3zM265 498h1v1h-1zM283 498h2v1h-2zM207 499h2v1h-2zM264 499h1v1h-1zM285 499h1v1h-1zM209 500h2v1h-2zM263 500h1v1h-1zM286 500h2v1h-2zM211 501h2v1h-2zM262 501h1v1h-1zM288 501h1v1h-1zM213 502h2v1h-2zM261 502h1v1h-1zM289 502h1v1h-1zM215 503h3v1h-3zM261 503h1v1h-1zM290 503h1v1h-1zM517 503h4v1h-4zM218 504h2v1h-2zM260 504h1v1h-1zM291 504h2v1h-2zM515 504h2v1h-2zM521 504h3v1h-3zM220 505h3v1h-3zM258 505h2v1h-2zM293 505h1v1h-1zM512 505h3v1h-3zM524 505h2v1h-2zM223 506h4v1h-4zM257 506h1v1h-1zM294 506h1v1h-1zM510 506h2v1h-2zM526 506h2v1h-2zM227 507h4v1h-4zM256 507h1v1h-1zM295 507h1v1h-1zM508 507h2v1h-2zM528 507h3v1h-3zM231 508h3v1h-3zM255 508h1v1h-1zM296 508h1v1h-1zM507 508h1v1h-1zM531 508h1v1h-1zM234 509h2v1h-2zM253 509h2v1h-2zM297 509h1v1h-1zM505 509h2v1h-2zM532 509h2v1h-2zM236 510h8v1h-8zM251 510h2v1h-2zM298 510h1v1h-1zM504 510h1v1h-1zM534 510h2v1h-2zM244 511h3v1h-3zM249 511h2v1h-2zM299 511h1v1h-1zM502 511h2v1h-2zM536 511h1v1h-1zM247 512h2v1h-2zM300 512h2v1h-2zM410 512h9v1h-9zM473 512h12v1h-12zM501 512h1v1h-1zM537 512h2v1h-2zM302 513h1v1h-1zM408 513h2v1h-2zM419 513h4v1h-4zM470 513h3v1h-3zM485 513h4v1h-4zM498 513h3v1h-3zM539 513h1v1h-1zM303 514h1v1h-1zM406 514h2v1h-2zM423 514h2v1h-2zM468 514h2v1h-2zM489 514h9v1h-9zM540 514h2v1h-2zM304 515h1v1h-1zM405 515h1v1h-1zM425 515h2v1h-2zM466 515h2v1h-2zM542 515h1v1h-1zM305 516h1v1h-1zM402 516h3v1h-3zM427 516h3v1h-3zM465 516h1v1h-1zM543 516h2v1h-2zM306 517h2v1h-2zM399 517h3v1h-3zM430 517h4v1h-4zM444 517h7v1h-7zM462 517h3v1h-3zM545 517h2v1h-2zM308 518h1v1h-1zM396 518h3v1h-3zM434 518h5v1h-5zM441 518h3v1h-3zM451 518h6v1h-6zM459 518h3v1h-3zM547 518h1v1h-1zM562 518h9v1h-9zM309 519h3v1h-3zM393 519h3v1h-3zM439 519h2v1h-2zM457 519h2v1h-2zM548 519h5v1h-5zM556 519h6v1h-6zM571 519h2v1h-2zM312 520h2v1h-2zM390 520h3v1h-3zM553 520h3v1h-3zM573 520h1v1h-1zM314 521h2v1h-2zM387 521h3v1h-3zM574 521h1v1h-1zM316 522h2v1h-2zM385 522h2v1h-2zM575 522h1v1h-1zM318 523h2v1h-2zM382 523h3v1h-3zM576 523h1v1h-1zM320 524h2v1h-2zM374 524h8v1h-8zM577 524h1v1h-1zM322 525h2v1h-2zM372 525h2v1h-2zM578 525h1v1h-1zM324 526h4v1h-4zM370 526h2v1h-2zM579 526h2v1h-2zM328 527h7v1h-7zM368 527h2v1h-2zM581 527h2v1h-2zM335 528h4v1h-4zM366 528h2v1h-2zM583 528h2v1h-2zM339 529h3v1h-3zM364 529h2v1h-2zM585 529h2v1h-2zM342 530h4v1h-4zM361 530h3v1h-3zM587 530h2v1h-2zM346 531h3v1h-3zM358 531h3v1h-3zM589 531h2v1h-2zM349 532h9v1h-9zM591 532h3v1h-3zM594 533h2v1h-2zM596 534h2v1h-2zM598 535h2v1h-2zM600 536h1v1h-1zM632 536h1v1h-1zM601 537h2v1h-2zM631 537h1v1h-1zM603 538h2v1h-2zM629 538h2v1h-2zM605 539h2v1h-2zM627 539h2v1h-2zM607 540h2v1h-2zM626 540h1v1h-1zM609 541h2v1h-2zM624 541h2v1h-2zM611 542h2v1h-2zM622 542h2v1h-2zM613 543h9v1h-9z"/>
<path fill="#2aa5dc" shape-rendering="crispEdges" d="M92 569h7v1h-7zM98 570h1v1h-1zM98 571h1v1h-1zM98 572h1v1h-1zM98 573h1v1h-1zM99 574h1v1h-1zM99 575h1v1h-1zM99 576h1v1h-1zM99 577h1v1h-1zM99 578h1v1h-1zM99 579h1v1h-1zM99 580h1v1h-1zM99 581h1v1h-1zM100 582h1v1h-1zM100 583h1v1h-1zM100 584h1v1h-1zM100 585h1v1h-1zM100 586h1v1h-1zM100 587h1v1h-1zM100 588h1v1h-1zM100 589h1v1h-1zM100 590h1v1h-1zM101 591h1v1h-1zM266 591h1v1h-1zM101 592h1v1h-1zM265 592h1v1h-1zM267 592h1v1h-1zM101 593h1v1h-1zM264 593h1v1h-1zM267 593h1v1h-1zM101 594h1v1h-1zM263 594h1v1h-1zM268 594h1v1h-1zM101 595h1v1h-1zM263 595h1v1h-1zM268 595h1v1h-1zM101 596h1v1h-1zM262 596h1v1h-1zM269 596h1v1h-1zM101 597h1v1h-1zM261 597h1v1h-1zM270 597h1v1h-1zM101 598h1v1h-1zM260 598h1v1h-1zM270 598h1v1h-1zM101 599h1v1h-1zM260 599h1v1h-1zM271 599h1v1h-1zM102 600h1v1h-1zM259 600h1v1h-1zM271 600h1v1h-1zM102 601h1v1h-1zM259 601h1v1h-1zM272 601h1v1h-1zM102 602h1v1h-1zM259 602h1v1h-1zM272 602h1v1h-1zM102 603h1v1h-1zM258 603h1v1h-1zM273 603h1v1h-1zM102 604h1v1h-1zM258 604h1v1h-1zM273 604h1v1h-1zM102 605h1v1h-1zM258 605h1v1h-1zM273 605h1v1h-1zM102 606h1v1h-1zM257 606h1v1h-1zM274 606h1v1h-1zM511 606h8v1h-8zM102 607h1v1h-1zM257 607h1v1h-1zM274 607h1v1h-1zM510 607h1v1h-1zM518 607h1v1h-1zM103 608h1v1h-1zM188 608h1v1h-1zM257 608h1v1h-1zM274 608h1v1h-1zM508 608h2v1h-2zM519 608h1v1h-1zM103 609h1v1h-1zM172 609h5v1h-5zM188 609h1v1h-1zM256 609h1v1h-1zM274 609h1v1h-1zM506 609h2v1h-2zM519 609h1v1h-1zM103 610h1v1h-1zM168 610h4v1h-4zM177 610h1v1h-1zM187 610h1v1h-1zM189 610h1v1h-1zM256 610h1v1h-1zM275 610h1v1h-1zM410 610h1v1h-1zM506 610h1v1h-1zM519 610h1v1h-1zM103 611h1v1h-1zM164 611h4v1h-4zM177 611h1v1h-1zM187 611h1v1h-1zM189 611h1v1h-1zM256 611h1v1h-1zM275 611h1v1h-1zM409 611h2v1h-2zM505 611h1v1h-1zM519 611h1v1h-1zM103 612h1v1h-1zM164 612h1v1h-1zM178 612h1v1h-1zM186 612h1v1h-1zM190 612h1v1h-1zM255 612h1v1h-1zM275 612h1v1h-1zM409 612h1v1h-1zM411 612h1v1h-1zM505 612h1v1h-1zM520 612h1v1h-1zM103 613h1v1h-1zM163 613h1v1h-1zM178 613h1v1h-1zM186 613h1v1h-1zM190 613h1v1h-1zM255 613h1v1h-1zM276 613h1v1h-1zM408 613h1v1h-1zM411 613h1v1h-1zM504 613h1v1h-1zM520 613h1v1h-1zM103 614h1v1h-1zM146 614h2v1h-2zM162 614h1v1h-1zM179 614h1v1h-1zM185 614h1v1h-1zM190 614h1v1h-1zM255 614h1v1h-1zM276 614h1v1h-1zM407 614h1v1h-1zM411 614h1v1h-1zM470 614h1v1h-1zM504 614h1v1h-1zM520 614h1v1h-1zM103 615h1v1h-1zM145 615h1v1h-1zM148 615h2v1h-2zM162 615h1v1h-1zM179 615h1v1h-1zM185 615h1v1h-1zM191 615h1v1h-1zM254 615h1v1h-1zM276 615h1v1h-1zM407 615h1v1h-1zM412 615h1v1h-1zM469 615h1v1h-1zM471 615h1v1h-1zM503 615h1v1h-1zM520 615h1v1h-1zM103 616h1v1h-1zM145 616h1v1h-1zM150 616h2v1h-2zM161 616h1v1h-1zM180 616h1v1h-1zM184 616h1v1h-1zM191 616h1v1h-1zM254 616h1v1h-1zM277 616h1v1h-1zM406 616h1v1h-1zM412 616h1v1h-1zM469 616h1v1h-1zM472 616h1v1h-1zM503 616h1v1h-1zM521 616h1v1h-1zM104 617h1v1h-1zM144 617h1v1h-1zM152 617h1v1h-1zM161 617h1v1h-1zM180 617h1v1h-1zM184 617h1v1h-1zM192 617h1v1h-1zM254 617h1v1h-1zM277 617h1v1h-1zM406 617h1v1h-1zM412 617h1v1h-1zM468 617h1v1h-1zM473 617h1v1h-1zM503 617h1v1h-1zM521 617h1v1h-1zM104 618h1v1h-1zM144 618h1v1h-1zM153 618h1v1h-1zM160 618h1v1h-1zM181 618h1v1h-1zM183 618h1v1h-1zM192 618h1v1h-1zM254 618h1v1h-1zM277 618h1v1h-1zM405 618h1v1h-1zM412 618h1v1h-1zM467 618h1v1h-1zM474 618h1v1h-1zM502 618h1v1h-1zM521 618h1v1h-1zM104 619h1v1h-1zM144 619h1v1h-1zM154 619h2v1h-2zM160 619h1v1h-1zM181 619h1v1h-1zM183 619h1v1h-1zM193 619h1v1h-1zM253 619h1v1h-1zM277 619h1v1h-1zM404 619h1v1h-1zM413 619h1v1h-1zM467 619h1v1h-1zM475 619h1v1h-1zM502 619h1v1h-1zM522 619h1v1h-1zM104 620h1v1h-1zM143 620h1v1h-1zM156 620h1v1h-1zM159 620h1v1h-1zM181 620h1v1h-1zM183 620h1v1h-1zM193 620h1v1h-1zM253 620h1v1h-1zM278 620h1v1h-1zM404 620h1v1h-1zM413 620h1v1h-1zM466 620h1v1h-1zM475 620h1v1h-1zM501 620h1v1h-1zM522 620h1v1h-1zM104 621h1v1h-1zM143 621h1v1h-1zM157 621h2v1h-2zM182 621h1v1h-1zM193 621h1v1h-1zM253 621h1v1h-1zM278 621h1v1h-1zM374 621h1v1h-1zM403 621h1v1h-1zM413 621h1v1h-1zM465 621h1v1h-1zM476 621h1v1h-1zM501 621h1v1h-1zM522 621h1v1h-1zM105 622h1v1h-1zM142 622h1v1h-1zM158 622h1v1h-1zM194 622h1v1h-1zM252 622h1v1h-1zM279 622h1v1h-1zM373 622h1v1h-1zM375 622h1v1h-1zM402 622h1v1h-1zM414 622h1v1h-1zM465 622h1v1h-1zM477 622h1v1h-1zM500 622h1v1h-1zM522 622h1v1h-1zM105 623h1v1h-1zM142 623h1v1h-1zM194 623h11v1h-11zM252 623h1v1h-1zM280 623h1v1h-1zM373 623h1v1h-1zM375 623h1v1h-1zM401 623h1v1h-1zM414 623h1v1h-1zM464 623h1v1h-1zM478 623h1v1h-1zM500 623h1v1h-1zM523 623h1v1h-1zM106 624h1v1h-1zM141 624h1v1h-1zM205 624h3v1h-3zM252 624h1v1h-1zM280 624h1v1h-1zM372 624h1v1h-1zM375 624h1v1h-1zM392 624h2v1h-2zM400 624h1v1h-1zM414 624h1v1h-1zM464 624h1v1h-1zM479 624h1v1h-1zM499 624h1v1h-1zM523 624h1v1h-1zM106 625h1v1h-1zM141 625h1v1h-1zM208 625h2v1h-2zM251 625h1v1h-1zM281 625h1v1h-1zM371 625h1v1h-1zM376 625h1v1h-1zM390 625h2v1h-2zM394 625h2v1h-2zM400 625h1v1h-1zM415 625h1v1h-1zM446 625h1v1h-1zM463 625h1v1h-1zM480 625h1v1h-1zM499 625h1v1h-1zM523 625h1v1h-1zM107 626h1v1h-1zM141 626h1v1h-1zM210 626h2v1h-2zM242 626h1v1h-1zM251 626h1v1h-1zM282 626h1v1h-1zM371 626h1v1h-1zM376 626h1v1h-1zM389 626h1v1h-1zM396 626h2v1h-2zM399 626h1v1h-1zM415 626h1v1h-1zM445 626h1v1h-1zM447 626h1v1h-1zM463 626h1v1h-1zM481 626h1v1h-1zM499 626h1v1h-1zM523 626h1v1h-1zM107 627h1v1h-1zM140 627h1v1h-1zM212 627h2v1h-2zM241 627h1v1h-1zM243 627h1v1h-1zM251 627h1v1h-1zM283 627h1v1h-1zM370 627h1v1h-1zM377 627h1v1h-1zM388 627h1v1h-1zM398 627h1v1h-1zM415 627h1v1h-1zM445 627h1v1h-1zM447 627h1v1h-1zM462 627h1v1h-1zM482 627h1v1h-1zM498 627h1v1h-1zM524 627h1v1h-1zM632 627h1v1h-1zM108 628h1v1h-1zM139 628h1v1h-1zM214 628h3v1h-3zM241 628h1v1h-1zM243 628h1v1h-1zM251 628h1v1h-1zM283 628h1v1h-1zM370 628h1v1h-1zM377 628h1v1h-1zM387 628h1v1h-1zM415 628h1v1h-1zM444 628h1v1h-1zM447 628h1v1h-1zM462 628h1v1h-1zM483 628h1v1h-1zM498 628h1v1h-1zM524 628h1v1h-1zM631 628h1v1h-1zM108 629h1v1h-1zM138 629h1v1h-1zM217 629h3v1h-3zM240 629h1v1h-1zM244 629h1v1h-1zM250 629h1v1h-1zM284 629h1v1h-1zM369 629h1v1h-1zM378 629h1v1h-1zM386 629h1v1h-1zM416 629h1v1h-1zM444 629h1v1h-1zM448 629h1v1h-1zM461 629h1v1h-1zM483 629h1v1h-1zM497 629h1v1h-1zM525 629h1v1h-1zM630 629h1v1h-1zM109 630h1v1h-1zM136 630h2v1h-2zM220 630h2v1h-2zM239 630h1v1h-1zM244 630h1v1h-1zM250 630h1v1h-1zM285 630h1v1h-1zM369 630h1v1h-1zM378 630h1v1h-1zM385 630h1v1h-1zM416 630h2v1h-2zM443 630h1v1h-1zM448 630h1v1h-1zM460 630h1v1h-1zM484 630h1v1h-1zM497 630h1v1h-1zM526 630h1v1h-1zM565 630h2v1h-2zM629 630h1v1h-1zM109 631h1v1h-1zM119 631h7v1h-7zM135 631h1v1h-1zM222 631h2v1h-2zM238 631h1v1h-1zM245 631h1v1h-1zM250 631h1v1h-1zM286 631h1v1h-1zM367 631h2v1h-2zM379 631h1v1h-1zM384 631h1v1h-1zM418 631h1v1h-1zM443 631h1v1h-1zM449 631h1v1h-1zM460 631h1v1h-1zM485 631h1v1h-1zM497 631h1v1h-1zM527 631h1v1h-1zM564 631h1v1h-1zM567 631h1v1h-1zM628 631h1v1h-1zM110 632h9v1h-9zM126 632h9v1h-9zM224 632h2v1h-2zM238 632h1v1h-1zM245 632h1v1h-1zM249 632h1v1h-1zM286 632h1v1h-1zM365 632h2v1h-2zM379 632h1v1h-1zM383 632h1v1h-1zM419 632h2v1h-2zM442 632h1v1h-1zM449 632h1v1h-1zM459 632h1v1h-1zM486 632h1v1h-1zM496 632h1v1h-1zM527 632h1v1h-1zM562 632h2v1h-2zM568 632h1v1h-1zM626 632h2v1h-2zM226 633h2v1h-2zM237 633h1v1h-1zM246 633h1v1h-1zM249 633h1v1h-1zM287 633h1v1h-1zM363 633h2v1h-2zM379 633h1v1h-1zM381 633h2v1h-2zM421 633h2v1h-2zM441 633h1v1h-1zM450 633h1v1h-1zM459 633h1v1h-1zM486 633h1v1h-1zM496 633h1v1h-1zM528 633h1v1h-1zM560 633h2v1h-2zM568 633h1v1h-1zM626 633h1v1h-1zM228 634h2v1h-2zM236 634h1v1h-1zM247 634h1v1h-1zM249 634h1v1h-1zM288 634h1v1h-1zM362 634h1v1h-1zM380 634h1v1h-1zM422 634h1v1h-1zM441 634h1v1h-1zM450 634h1v1h-1zM458 634h1v1h-1zM487 634h1v1h-1zM495 634h1v1h-1zM529 634h1v1h-1zM558 634h2v1h-2zM569 634h1v1h-1zM625 634h1v1h-1zM230 635h7v1h-7zM247 635h1v1h-1zM249 635h1v1h-1zM289 635h1v1h-1zM361 635h1v1h-1zM423 635h1v1h-1zM440 635h1v1h-1zM450 635h1v1h-1zM457 635h2v1h-2zM488 635h1v1h-1zM495 635h1v1h-1zM530 635h1v1h-1zM556 635h2v1h-2zM570 635h1v1h-1zM625 635h1v1h-1zM248 636h1v1h-1zM290 636h1v1h-1zM360 636h1v1h-1zM423 636h1v1h-1zM439 636h2v1h-2zM451 636h1v1h-1zM456 636h1v1h-1zM488 636h4v1h-4zM494 636h1v1h-1zM531 636h1v1h-1zM554 636h2v1h-2zM570 636h1v1h-1zM625 636h1v1h-1zM248 637h1v1h-1zM290 637h2v1h-2zM360 637h1v1h-1zM424 637h1v1h-1zM438 637h1v1h-1zM451 637h1v1h-1zM454 637h2v1h-2zM492 637h3v1h-3zM532 637h1v1h-1zM554 637h1v1h-1zM571 637h1v1h-1zM624 637h1v1h-1zM292 638h1v1h-1zM332 638h1v1h-1zM359 638h1v1h-1zM424 638h1v1h-1zM436 638h2v1h-2zM452 638h2v1h-2zM532 638h1v1h-1zM553 638h1v1h-1zM572 638h1v1h-1zM624 638h1v1h-1zM293 639h1v1h-1zM331 639h1v1h-1zM333 639h1v1h-1zM358 639h1v1h-1zM425 639h1v1h-1zM435 639h1v1h-1zM452 639h1v1h-1zM533 639h1v1h-1zM553 639h1v1h-1zM572 639h1v1h-1zM624 639h1v1h-1zM294 640h1v1h-1zM331 640h1v1h-1zM334 640h1v1h-1zM357 640h1v1h-1zM425 640h1v1h-1zM434 640h1v1h-1zM534 640h1v1h-1zM552 640h1v1h-1zM572 640h1v1h-1zM623 640h1v1h-1zM295 641h1v1h-1zM331 641h1v1h-1zM335 641h2v1h-2zM357 641h1v1h-1zM426 641h1v1h-1zM433 641h1v1h-1zM535 641h1v1h-1zM552 641h1v1h-1zM573 641h1v1h-1zM623 641h1v1h-1zM296 642h1v1h-1zM314 642h1v1h-1zM330 642h1v1h-1zM337 642h1v1h-1zM356 642h1v1h-1zM426 642h1v1h-1zM431 642h2v1h-2zM536 642h1v1h-1zM552 642h1v1h-1zM573 642h1v1h-1zM623 642h1v1h-1zM297 643h2v1h-2zM313 643h1v1h-1zM315 643h1v1h-1zM330 643h1v1h-1zM338 643h1v1h-1zM355 643h1v1h-1zM427 643h1v1h-1zM430 643h1v1h-1zM536 643h1v1h-1zM551 643h1v1h-1zM573 643h1v1h-1zM622 643h1v1h-1zM299 644h2v1h-2zM312 644h1v1h-1zM316 644h1v1h-1zM329 644h1v1h-1zM339 644h1v1h-1zM355 644h1v1h-1zM428 644h2v1h-2zM537 644h1v1h-1zM551 644h1v1h-1zM573 644h1v1h-1zM622 644h1v1h-1zM301 645h2v1h-2zM311 645h1v1h-1zM317 645h1v1h-1zM329 645h1v1h-1zM340 645h2v1h-2zM354 645h1v1h-1zM428 645h1v1h-1zM538 645h1v1h-1zM550 645h1v1h-1zM574 645h1v1h-1zM622 645h1v1h-1zM303 646h1v1h-1zM310 646h1v1h-1zM318 646h1v1h-1zM328 646h1v1h-1zM342 646h1v1h-1zM354 646h1v1h-1zM539 646h1v1h-1zM550 646h1v1h-1zM574 646h1v1h-1zM621 646h1v1h-1zM304 647h2v1h-2zM310 647h1v1h-1zM319 647h1v1h-1zM328 647h1v1h-1zM343 647h2v1h-2zM353 647h1v1h-1zM539 647h1v1h-1zM550 647h1v1h-1zM574 647h1v1h-1zM621 647h1v1h-1zM306 648h2v1h-2zM309 648h1v1h-1zM320 648h1v1h-1zM327 648h1v1h-1zM345 648h1v1h-1zM353 648h1v1h-1zM540 648h1v1h-1zM549 648h1v1h-1zM574 648h1v1h-1zM584 648h1v1h-1zM621 648h1v1h-1zM308 649h1v1h-1zM321 649h2v1h-2zM327 649h1v1h-1zM346 649h1v1h-1zM352 649h1v1h-1zM541 649h1v1h-1zM549 649h1v1h-1zM575 649h1v1h-1zM584 649h2v1h-2zM620 649h1v1h-1zM323 650h4v1h-4zM347 650h1v1h-1zM352 650h1v1h-1zM541 650h1v1h-1zM548 650h1v1h-1zM575 650h1v1h-1zM583 650h1v1h-1zM586 650h1v1h-1zM620 650h1v1h-1zM326 651h1v1h-1zM348 651h1v1h-1zM351 651h1v1h-1zM542 651h7v1h-7zM575 651h1v1h-1zM583 651h1v1h-1zM587 651h1v1h-1zM620 651h1v1h-1zM349 652h1v1h-1zM351 652h1v1h-1zM575 652h1v1h-1zM582 652h1v1h-1zM588 652h1v1h-1zM619 652h1v1h-1zM350 653h1v1h-1zM576 653h1v1h-1zM582 653h1v1h-1zM589 653h1v1h-1zM594 653h3v1h-3zM619 653h1v1h-1zM576 654h1v1h-1zM582 654h1v1h-1zM589 654h1v1h-1zM591 654h3v1h-3zM597 654h1v1h-1zM618 654h1v1h-1zM576 655h1v1h-1zM581 655h1v1h-1zM590 655h1v1h-1zM597 655h1v1h-1zM618 655h1v1h-1zM576 656h1v1h-1zM581 656h1v1h-1zM598 656h1v1h-1zM617 656h1v1h-1zM577 657h1v1h-1zM580 657h1v1h-1zM599 657h1v1h-1zM617 657h1v1h-1zM577 658h1v1h-1zM580 658h1v1h-1zM599 658h1v1h-1zM616 658h1v1h-1zM577 659h1v1h-1zM580 659h1v1h-1zM600 659h1v1h-1zM616 659h1v1h-1zM577 660h1v1h-1zM579 660h1v1h-1zM600 660h1v1h-1zM615 660h1v1h-1zM578 661h2v1h-2zM601 661h1v1h-1zM606 661h5v1h-5zM615 661h1v1h-1zM578 662h1v1h-1zM602 662h4v1h-4zM611 662h4v1h-4zM578 663h1v1h-1zM602 663h1v1h-1zM614 663h1v1h-1z"/>
<path fill="#0000ff" shape-rendering="crispEdges" d="M518 606h2v1h-2zM520 607h2v1h-2zM522 608h2v1h-2zM524 609h2v1h-2zM526 610h2v1h-2zM528 611h3v1h-3zM531 612h2v1h-2zM533 613h2v1h-2zM535 614h2v1h-2zM537 615h2v1h-2zM539 616h2v1h-2zM541 617h2v1h-2zM543 618h2v1h-2zM545 619h3v1h-3zM548 620h2v1h-2zM550 621h2v1h-2zM552 622h2v1h-2zM554 623h2v1h-2zM556 624h2v1h-2zM558 625h2v1h-2zM560 626h2v1h-2zM562 627h3v1h-3zM565 628h2v1h-2zM567 629h2v1h-2zM569 630h2v1h-2zM571 631h2v1h-2zM573 632h2v1h-2zM575 633h2v1h-2zM577 634h2v1h-2zM579 635h3v1h-3zM582 636h2v1h-2zM584 637h2v1h-2zM586 638h2v1h-2zM588 639h2v1h-2zM590 640h2v1h-2zM592 641h2v1h-2zM594 642h2v1h-2zM596 643h3v1h-3zM599 644h2v1h-2zM601 645h2v1h-2zM603 646h2v1h-2zM605 647h2v1h-2zM607 648h2v1h-2zM609 649h2v1h-2zM611 650h2v1h-2zM613 651h3v1h-3zM616 652h2v1h-2zM618 653h2v1h-2zM620 654h2v1h-2zM622 655h2v1h-2zM624 656h2v1h-2zM626 657h2v1h-2zM628 658h2v1h-2zM630 659h3v1h-3zM633 660h2v1h-2zM635 661h2v1h-2zM637 662h2v1h-2zM639 663h1v1h-1z"/>
<text x="90" y="12.5" fill="#000" style="font-weight:500">美原油连续</text>
<text x="147" y="12.5" fill="#ff7a00" style="font-weight:bold">【</text>
<text x="161.3" y="12.5" fill="#ff8a1a" textLength="25.5" lengthAdjust="spacingAndGlyphs">日线</text>
<text x="190" y="12.5" fill="#ff7a00" style="font-weight:bold">】</text>
<g stroke="#ff8000" stroke-width="0.85" fill="none"><circle cx="202.6" cy="9.3" r="4"/><line x1="198.6" x2="206.6" y1="9.3" y2="9.3"/><line x1="202.6" x2="202.6" y1="5.3" y2="13.3"/></g>
<g><path shape-rendering="crispEdges" fill="#000080" d="M215 0h1v12h-1zM226 0h1v12h-1zM215 10h12v2h-12z"/><path shape-rendering="crispEdges" fill="#b0b0b8" d="M216 12h12v1h-12z"/><polyline points="216,6.6 219.5,2.5 222.6,5.2 226,3.3" fill="none" stroke="#ff0000" stroke-width="1.1"/><polyline points="216,9.6 219.5,5.5 222.6,8.5 226,6.3" fill="none" stroke="#0000ff" stroke-width="1.1"/></g>
<text class="t" x="230.5" y="11.5" text-anchor="start" fill="#000" textLength="105" lengthAdjust="spacingAndGlyphs">MA(50,200,0,0,0,0)</text>
<text class="t" x="341" y="11.5" text-anchor="start" fill="#4a90f2" textLength="66.6" lengthAdjust="spacingAndGlyphs">MA50:62.20</text>
<text class="t" x="417.2" y="11.5" text-anchor="start" fill="#52c08c" textLength="74" lengthAdjust="spacingAndGlyphs">MA200:65.60</text>
<text class="t" x="500" y="11.5" text-anchor="start" fill="#3aa8e8" textLength="19.3" lengthAdjust="spacingAndGlyphs">MA</text>
<text class="t" x="90.5" y="423.3" text-anchor="start" fill="#000" textLength="85" lengthAdjust="spacingAndGlyphs">MACD(26,12,9)</text>
<text class="t" x="180.6" y="423.3" text-anchor="start" fill="#4a90f2" textLength="55.8" lengthAdjust="spacingAndGlyphs">DIFF:-1.28</text>
<text class="t" x="245.4" y="423.3" text-anchor="start" fill="#52c08c" textLength="55.3" lengthAdjust="spacingAndGlyphs">DEA:-1.29</text>
<text class="t" x="309.7" y="423.3" text-anchor="start" fill="#3aa8e8" textLength="62.5" lengthAdjust="spacingAndGlyphs">MACD:0.03</text>
<text class="t" x="90.5" y="560.7" text-anchor="start" fill="#000" textLength="73.7" lengthAdjust="spacingAndGlyphs">RSI(14,14,14)</text>
<text class="t" x="169.3" y="560.7" text-anchor="start" fill="#4a90f2" textLength="59.1" lengthAdjust="spacingAndGlyphs">RSI1:47.75</text>
<text class="t" x="237.3" y="560.7" text-anchor="start" fill="#52c08c" textLength="58.7" lengthAdjust="spacingAndGlyphs">RSI2:47.75</text>
<text class="t" x="305.8" y="560.7" text-anchor="start" fill="#3aa8e8" textLength="58.5" lengthAdjust="spacingAndGlyphs">RSI3:47.75</text>
<text class="b" x="141.8" y="677" fill="#1a1a2e" textLength="44.6" lengthAdjust="spacingAndGlyphs">2025/07</text>
<text class="b" x="279.8" y="677" fill="#1a1a2e" textLength="44.6" lengthAdjust="spacingAndGlyphs">2025/08</text>
<text class="b" x="405.8" y="677" fill="#1a1a2e" textLength="44.6" lengthAdjust="spacingAndGlyphs">2025/09</text>
<text class="b" x="537.8" y="677" fill="#1a1a2e" textLength="44.6" lengthAdjust="spacingAndGlyphs">2025/10</text>
<rect x="18.5" y="664.5" width="69" height="18" fill="#fff" stroke="#b9c3d0" stroke-width="1" shape-rendering="crispEdges"/>
<text class="b" x="32.5" y="679.6" fill="#ff7a00" textLength="24.5" lengthAdjust="spacingAndGlyphs">日线</text>
<path d="M62.7 679 L66.8 670.8 L70.9 679 Z" fill="#ff7a00"/>
<g shape-rendering="crispEdges"><path fill="#000" d="M25 550h4v1h-4zM25 557h4v1h-4zM23 552h1v4h-1zM30 552h1v4h-1zM24 551h1v1h-1zM29 551h1v1h-1zM24 556h1v1h-1zM29 556h1v1h-1z"/><path fill="#f00" d="M26 552h2v4h-2zM25 553h4v2h-4zM26 547h1v2h-1zM26 559h1v2h-1zM20 553h2v1h-2zM32 553h2v1h-2zM21 548h1v1h-1zM22 549h1v1h-1zM32 548h1v1h-1zM31 549h1v1h-1zM22 558h1v1h-1zM21 559h1v1h-1zM31 558h1v1h-1zM32 559h1v1h-1z"/></g>
<g shape-rendering="crispEdges">
<rect x="596.5" y="-1.5" width="13" height="14" fill="#fff" stroke="#1c7ad8" stroke-width="1"/>
<rect x="612.5" y="-1.5" width="13" height="14" fill="#fff" stroke="#1c7ad8" stroke-width="1"/>
<rect x="628.5" y="-1.5" width="13" height="14" fill="#1c7ad8" stroke="#1c7ad8" stroke-width="1"/>
<rect x="644.5" y="-1.5" width="13" height="14" fill="#fff" stroke="#1c7ad8" stroke-width="1"/>
</g>
<path fill="#1c7ad8" shape-rendering="crispEdges" d="M602 1h2v2h-2zM602 5h2v2h-2zM602 9h2v2h-2zM598 5h3v2h-3zM605 5h3v2h-3z"/>
<g fill="#1c7ad8"><path shape-rendering="crispEdges" d="M615 2h1v9h-1zM614 9h10v1h-10zM618 3h1v5h-1z"/><path d="M615.5 0.8L617.3 3H613.7zM625 9.5L622.6 7.8V11.2zM619.3 5.5L622.2 3V8z"/></g>
<g fill="#fff"><path shape-rendering="crispEdges" d="M631 2h1v9h-1zM630 9h10v1h-10z"/><path d="M631.5 0.8L633.3 3H629.7zM641 9.5L638.6 7.8V11.2z"/><path d="M634.3 2.8L639 5.6L634.3 8.4z" fill-opacity="0.8"/></g>
<g fill="#1c7ad8"><path shape-rendering="crispEdges" d="M646 1h4v1h-4zM646 9h4v1h-4zM646 1h1v9h-1zM649 1h1v3h-1zM649 7h1v3h-1zM649 5h4v2h-4z"/><path d="M652.3 2.8L655.8 5.9L652.3 9z"/></g>
<text x="602.5" y="659.5" style="font-size:29px;letter-spacing:3px" fill="#9a7a60" fill-opacity="0.4">FX678</text>
<text x="601" y="658" style="font-size:29px;letter-spacing:3px" fill="#cad9ee" fill-opacity="0.9">FX678</text>
</svg></body></html>
